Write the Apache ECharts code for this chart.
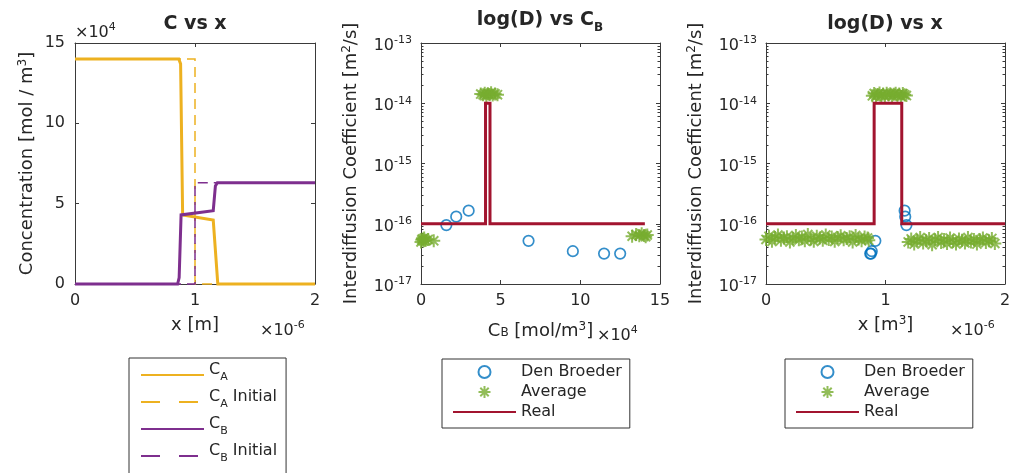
<!DOCTYPE html>
<html>
<head>
<meta charset="utf-8">
<script src="https://cdn.jsdelivr.net/npm/echarts@6/dist/echarts.min.js"></script>
<style>
html, body { margin: 0; padding: 0; background: #ffffff; }
#chart { width: 1011px; height: 473px; }
</style>
</head>
<body>
<div id="chart"></div>
<script>
// ---- Panel 1: concentration profiles (x in 1e-6 m, C in 1e4 mol/m^3) ----
const caFinal   = [[0, 14], [0.865, 14], [0.88, 13.7], [0.897, 4.3], [1.152, 3.98], [1.19, 0], [2, 0]];
const caInitial = [[0, 14], [1, 14], [1, 0], [2, 0]];
const cbFinal   = [[0, 0], [0.855, 0], [0.868, 0.4], [0.884, 4.3], [0.897, 4.42], [1.152, 4.56], [1.17, 6.1], [1.186, 6.3], [2, 6.3]];
const cbInitial = [[0, 0], [1, 0], [1, 6.3], [2, 6.3]];

// ---- Panel 2: D against C_B (C_B in 1e4 mol/m^3) ----
const dbCB  = [1.59, 2.21, 2.99, 6.75, 9.53, 11.49, 12.5];
const dbD   = [9.5e-17, 1.31e-16, 1.65e-16, 5.2e-17, 3.5e-17, 3.2e-17, 3.2e-17];
const avgCB = [0, 0.05, 0.1, 0.15, 0.2, 0.3, 0.45, 0.8,
               3.75, 3.9, 4.0, 4.1, 4.2, 4.3, 4.4, 4.5, 4.65, 4.8,
               13.25, 13.5, 13.7, 13.85, 14.0, 14.1, 14.2];
const avgD  = [5.0e-17, 5.4e-17, 5.6e-17, 5.2e-17, 5.8e-17, 5.3e-17, 5.5e-17, 5.2e-17,
               1.42e-14, 1.38e-14, 1.47e-14, 1.35e-14, 1.44e-14, 1.4e-14, 1.5e-14, 1.37e-14, 1.43e-14, 1.39e-14,
               6.2e-17, 6.6e-17, 6.3e-17, 6.8e-17, 6.4e-17, 6.1e-17, 6.5e-17];
const realCB = [0, 4.05, 4.05, 4.33, 4.33, 14.05];
const realD  = [1e-16, 1e-16, 1e-14, 1e-14, 1e-16, 1e-16];

// ---- Panel 3: D against x (x in 1e-6 m) ----
const dbX  = [0.872, 0.878, 0.885, 0.915, 1.16, 1.165, 1.175];
const dbDx = [3.2e-17, 3.2e-17, 3.5e-17, 5.2e-17, 1.65e-16, 1.31e-16, 9.5e-17];
const avgX = [0, 0.025, 0.05, 0.075, 0.1, 0.125, 0.15, 0.175, 0.2, 0.225, 0.25, 0.275, 0.3, 0.325, 0.35,
              0.375, 0.4, 0.425, 0.45, 0.475, 0.5, 0.525, 0.55, 0.575, 0.6, 0.625, 0.65, 0.675, 0.7,
              0.725, 0.75, 0.775, 0.8, 0.825, 0.85, 0.86,
              0.89, 0.905, 0.92, 0.935, 0.95, 0.965, 0.98, 0.995, 1.01, 1.025, 1.04, 1.055, 1.07, 1.085,
              1.1, 1.115, 1.13, 1.145, 1.16, 1.175,
              1.19, 1.215, 1.24, 1.265, 1.29, 1.315, 1.34, 1.365, 1.39, 1.415, 1.44, 1.465, 1.49, 1.515,
              1.54, 1.565, 1.59, 1.615, 1.64, 1.665, 1.69, 1.715, 1.74, 1.765, 1.79, 1.815, 1.84, 1.865,
              1.89, 1.915, 1.94, 1.965, 1.99, 2.0];
const avgDx = [5.5e-17, 6.2e-17, 5.1e-17, 5.9e-17, 6.5e-17, 5.3e-17, 5.8e-17, 6.1e-17, 5.0e-17, 5.7e-17,
               6.4e-17, 5.4e-17, 6.0e-17, 5.2e-17, 6.6e-17, 5.6e-17, 5.1e-17, 6.2e-17, 5.8e-17, 5.3e-17,
               6.5e-17, 5.5e-17, 6.0e-17, 5.1e-17, 5.9e-17, 6.3e-17, 5.4e-17, 5.7e-17, 6.1e-17, 5.0e-17,
               6.4e-17, 5.6e-17, 5.2e-17, 6.0e-17, 5.8e-17, 5.3e-17,
               1.33e-14, 1.45e-14, 1.3e-14, 1.4e-14, 1.48e-14, 1.35e-14, 1.42e-14, 1.31e-14, 1.46e-14, 1.38e-14,
               1.44e-14, 1.32e-14, 1.41e-14, 1.47e-14, 1.36e-14, 1.43e-14, 1.3e-14, 1.45e-14, 1.39e-14, 1.34e-14,
               5.0e-17, 5.6e-17, 4.6e-17, 5.3e-17, 5.9e-17, 4.8e-17, 5.2e-17, 5.7e-17, 4.5e-17, 5.4e-17,
               5.9e-17, 4.9e-17, 5.5e-17, 4.7e-17, 5.8e-17, 5.1e-17, 4.6e-17, 5.6e-17, 5.3e-17, 4.8e-17,
               5.9e-17, 5.0e-17, 5.5e-17, 4.6e-17, 5.4e-17, 5.8e-17, 4.9e-17, 5.2e-17, 5.7e-17, 4.7e-17];
const realX  = [0, 0.905, 0.905, 1.136, 1.136, 2];
const realDx = [1e-16, 1e-16, 1e-14, 1e-14, 1e-16, 1e-16];

// ---- Tick labels ----
const xTicksPos   = [0, 1, 2];          // x [m] / 1e-6
const concTicks   = [0, 5, 10, 15];     // C / 1e4
const cbTicks     = [0, 5, 10, 15];     // C_B / 1e4
const decadeTicks = [-17, -16, -15, -14, -13];

const FONT = "'DejaVu Sans', 'Liberation Sans', sans-serif";
const TXT = '#262626';
const AX = '#3a3a3a';
const C_A = '#EDB120', C_B = '#7E2F8E', BLUE = '#0072BD', GREEN = '#77AC30', RED = '#A2142F';

// log-axis minor ticks at 2..9 x 10^n
const logMinor = [];
decadeTicks.slice(0, -1).forEach(e => {
  for (let m = 2; m <= 9; m++) logMinor.push(m * Math.pow(10, e));
});

const pairs = (xs, ys) => xs.map((x, i) => [x, ys[i]]);

const grids = [
  { left: 75,  top: 43, width: 240, height: 241, outerBoundsMode: 'none', containLabel: false },
  { left: 421, top: 43, width: 239, height: 241, outerBoundsMode: 'none', containLabel: false },
  { left: 766, top: 43, width: 239, height: 241, outerBoundsMode: 'none', containLabel: false }
];

const tickLabel = { show: true, fontFamily: FONT, fontSize: 16, color: TXT };
const supRich = {
  b: { fontFamily: FONT, fontSize: 16, color: TXT, lineHeight: 16, padding: [6, 0, 0, 0] },
  s: { fontFamily: FONT, fontSize: 11, color: TXT, lineHeight: 11, verticalAlign: 'top' }
};
const nameRich = {
  t:   { fontFamily: FONT, fontSize: 18, color: TXT, lineHeight: 18, padding: [11, 0, 9, 0] },
  sup: { fontFamily: FONT, fontSize: 12, color: TXT, lineHeight: 12, verticalAlign: 'top' },
  sub: { fontFamily: FONT, fontSize: 12, color: TXT, lineHeight: 12, verticalAlign: 'bottom' }
};

function axis(o) {
  return {
    type: o.type || 'value',
    gridIndex: o.grid,
    position: o.position,
    min: o.min, max: o.max, interval: o.interval,
    logBase: o.type === 'log' ? 10 : undefined,
    splitNumber: o.type === 'log' ? 4 : undefined,
    axisLine: { show: o.line !== false, onZero: false, lineStyle: { color: AX, width: 1 } },
    axisTick: Object.assign({ show: true, inside: true, length: o.tickLen || 4, lineStyle: { color: AX, width: 1 } },
                            o.customTicks ? { customValues: o.customTicks } : {}),
    axisLabel: o.label ? Object.assign({}, tickLabel, o.label) : { show: false },
    splitLine: { show: false },
    minorTick: { show: false },
    name: o.name || '',
    nameLocation: 'middle',
    nameGap: o.nameGap || 0,
    nameMoveOverlap: false,
    nameTextStyle: { fontFamily: FONT, fontSize: 18, color: TXT, rich: nameRich },
    silent: true
  };
}

const logLabel = {
  margin: 9,
  formatter: v => '{b|10}{s|' + Math.round(Math.log10(v)) + '}',
  rich: supRich
};

const xAxes = [
  axis({ grid: 0, position: 'bottom', min: xTicksPos[0], max: xTicksPos[xTicksPos.length - 1], interval: xTicksPos[1] - xTicksPos[0],
         label: { margin: 9 }, name: '{t|x [m]}', nameGap: 31 }),
  axis({ grid: 0, position: 'top', min: xTicksPos[0], max: xTicksPos[xTicksPos.length - 1], interval: xTicksPos[1] - xTicksPos[0] }),
  axis({ grid: 1, position: 'bottom', min: cbTicks[0], max: cbTicks[cbTicks.length - 1], interval: cbTicks[1] - cbTicks[0],
         label: { margin: 9 }, name: '{t|C}{sub|B}{t| [mol/m}{sup|3}{t|]}', nameGap: 37 }),
  axis({ grid: 1, position: 'top', min: cbTicks[0], max: cbTicks[cbTicks.length - 1], interval: cbTicks[1] - cbTicks[0] }),
  axis({ grid: 2, position: 'bottom', min: xTicksPos[0], max: xTicksPos[xTicksPos.length - 1], interval: xTicksPos[1] - xTicksPos[0],
         label: { margin: 9 }, name: '{t|x [m}{sup|3}{t|]}', nameGap: 31 }),
  axis({ grid: 2, position: 'top', min: xTicksPos[0], max: xTicksPos[xTicksPos.length - 1], interval: xTicksPos[1] - xTicksPos[0] })
];

const dMin = Math.pow(10, decadeTicks[0]);
const dMax = Math.pow(10, decadeTicks[decadeTicks.length - 1]);
const yAxes = [
  axis({ grid: 0, position: 'left', min: concTicks[0], max: concTicks[concTicks.length - 1], interval: concTicks[1] - concTicks[0],
         label: { margin: 10 }, name: '{t|Concentration [mol / m}{sup|3}{t|]}', nameGap: 40 }),
  axis({ grid: 0, position: 'right', min: concTicks[0], max: concTicks[concTicks.length - 1], interval: concTicks[1] - concTicks[0] }),
  axis({ grid: 1, type: 'log', position: 'left', min: dMin, max: dMax, label: logLabel,
         name: '{t|Interdiffusion Coefficient [m}{sup|2}{t|/s]}', nameGap: 62 }),
  axis({ grid: 1, type: 'log', position: 'right', min: dMin, max: dMax }),
  axis({ grid: 1, type: 'log', position: 'left', min: dMin, max: dMax, line: false, tickLen: 2.5, customTicks: logMinor }),
  axis({ grid: 1, type: 'log', position: 'right', min: dMin, max: dMax, line: false, tickLen: 2.5, customTicks: logMinor }),
  axis({ grid: 2, type: 'log', position: 'left', min: dMin, max: dMax, label: logLabel,
         name: '{t|Interdiffusion Coefficient [m}{sup|2}{t|/s]}', nameGap: 62 }),
  axis({ grid: 2, type: 'log', position: 'right', min: dMin, max: dMax }),
  axis({ grid: 2, type: 'log', position: 'left', min: dMin, max: dMax, line: false, tickLen: 2.5, customTicks: logMinor }),
  axis({ grid: 2, type: 'log', position: 'right', min: dMin, max: dMax, line: false, tickLen: 2.5, customTicks: logMinor })
];

// asterisk marker drawn as strokes
const STAR = 'path://M5,0L5,10M0,5L10,5M1.5,1.5L8.5,8.5M1.5,8.5L8.5,1.5';

function lineSeries(name, data, xi, yi, color, width, dashed) {
  return {
    type: 'line', name, data, xAxisIndex: xi, yAxisIndex: yi,
    symbol: 'none', showSymbol: false, clip: false, animation: false, silent: true,
    lineStyle: { color, width, type: dashed ? [10, 6] : 'solid', cap: 'butt', join: 'miter' },
    itemStyle: { color }
  };
}
function circleSeries(name, data, xi, yi) {
  return {
    type: 'scatter', name, data, xAxisIndex: xi, yAxisIndex: yi,
    symbol: 'circle', symbolSize: 10.5, clip: false, animation: false, silent: true,
    itemStyle: { color: 'rgba(0,0,0,0)', borderColor: BLUE, borderWidth: 1.7 }
  };
}
function starSeries(name, data, xi, yi) {
  return {
    type: 'scatter', name, data, xAxisIndex: xi, yAxisIndex: yi,
    symbol: STAR, symbolSize: 13, symbolKeepAspect: true, clip: false, animation: false, silent: true,
    itemStyle: { color: 'rgba(0,0,0,0)', borderColor: GREEN, borderWidth: 2 }
  };
}

const series = [
  lineSeries('CA', caFinal, 0, 0, C_A, 3, false),
  lineSeries('CAi', caInitial, 0, 0, C_A, 1.5, true),
  lineSeries('CB', cbFinal, 0, 0, C_B, 3, false),
  lineSeries('CBi', cbInitial, 0, 0, C_B, 1.5, true),
  circleSeries('Den Broeder', pairs(dbCB, dbD), 2, 2),
  starSeries('Average', pairs(avgCB, avgD), 2, 2),
  lineSeries('Real', pairs(realCB, realD), 2, 2, RED, 3, false),
  circleSeries('Den Broeder', pairs(dbX, dbDx), 4, 6),
  starSeries('Average', pairs(avgX, avgDx), 4, 6),
  lineSeries('Real', pairs(realX, realDx), 4, 6, RED, 3, false)
];

const legendNames = {
  CA: '{t|C}{sub|A}',
  CAi: '{t|C}{sub|A}{t| Initial}',
  CB: '{t|C}{sub|B}',
  CBi: '{t|C}{sub|B}{t| Initial}'
};
const hideDot = { opacity: 0 };
const legendBase = {
  type: 'plain', orient: 'vertical', itemWidth: 63, itemHeight: 12, align: 'left',
  borderColor: '#333', borderWidth: 1, backgroundColor: '#fff', height: 200,
  selectedMode: false, symbolKeepAspect: true
};
const plainText = { fontFamily: FONT, fontSize: 16, color: TXT, lineHeight: 20 };
const legends = [
  Object.assign({}, legendBase, {
    left: 129, top: 358, itemGap: 1, padding: [4, 9, 6, 11],
    data: [
      { name: 'CA', itemStyle: hideDot },
      { name: 'CAi', itemStyle: hideDot, lineStyle: { type: [19, 19] } },
      { name: 'CB', itemStyle: hideDot },
      { name: 'CBi', itemStyle: hideDot, lineStyle: { type: [19, 19] } }
    ],
    formatter: n => legendNames[n],
    textStyle: {
      fontFamily: FONT, fontSize: 16, color: TXT,
      rich: {
        t:   { fontFamily: FONT, fontSize: 16, color: TXT, lineHeight: 16, padding: [0, 0, 10, 0] },
        sub: { fontFamily: FONT, fontSize: 11, color: TXT, lineHeight: 11, verticalAlign: 'bottom' }
      }
    }
  }),
  Object.assign({}, legendBase, {
    left: 442, top: 359, itemGap: 0, padding: [3, 8, 6, 10],
    data: ['Den Broeder', 'Average', { name: 'Real', itemStyle: hideDot }],
    textStyle: plainText
  }),
  Object.assign({}, legendBase, {
    left: 785, top: 359, itemGap: 0, padding: [3, 8, 6, 10],
    data: ['Den Broeder', 'Average', { name: 'Real', itemStyle: hideDot }],
    textStyle: plainText
  })
];

const expRich = {
  m: { fontFamily: FONT, fontSize: 16, color: TXT, lineHeight: 16, padding: [6, 0, 0, 0] },
  s: { fontFamily: FONT, fontSize: 11, color: TXT, lineHeight: 11, verticalAlign: 'top' }
};
const titleRich = {
  t: { fontFamily: FONT, fontSize: 19, fontWeight: 'bold', color: '#000', lineHeight: 19, padding: [0, 0, 8, 0] },
  s: { fontFamily: FONT, fontSize: 12, fontWeight: 'bold', color: '#000', lineHeight: 12, verticalAlign: 'bottom' }
};
function label(text, x, y, rich, align) {
  return { type: 'text', x, y, silent: true,
           style: { text, rich, align: align || 'left', verticalAlign: 'middle', fill: TXT, font: '16px ' + FONT } };
}

const graphics = [
  label('{t|C vs x}', 195, 28, titleRich, 'center'),
  label('{t|log(D) vs C}{s|B}', 540, 24, titleRich, 'center'),
  label('{t|log(D) vs x}', 885, 28, titleRich, 'center'),
  label('{m|\u00d710}{s|4}', 75, 30, expRich),
  label('{m|\u00d710}{s|-6}', 260, 328, expRich),
  label('{m|\u00d710}{s|4}', 597, 333, expRich),
  label('{m|\u00d710}{s|-6}', 950, 328, expRich)
];

const chart = echarts.init(document.getElementById('chart'), null, { renderer: 'canvas' });
chart.setOption({
  animation: false,
  backgroundColor: '#ffffff',
  grid: grids,
  xAxis: xAxes,
  yAxis: yAxes,
  legend: legends,
  series: series,
  graphic: graphics
});
</script>
</body>
</html>
